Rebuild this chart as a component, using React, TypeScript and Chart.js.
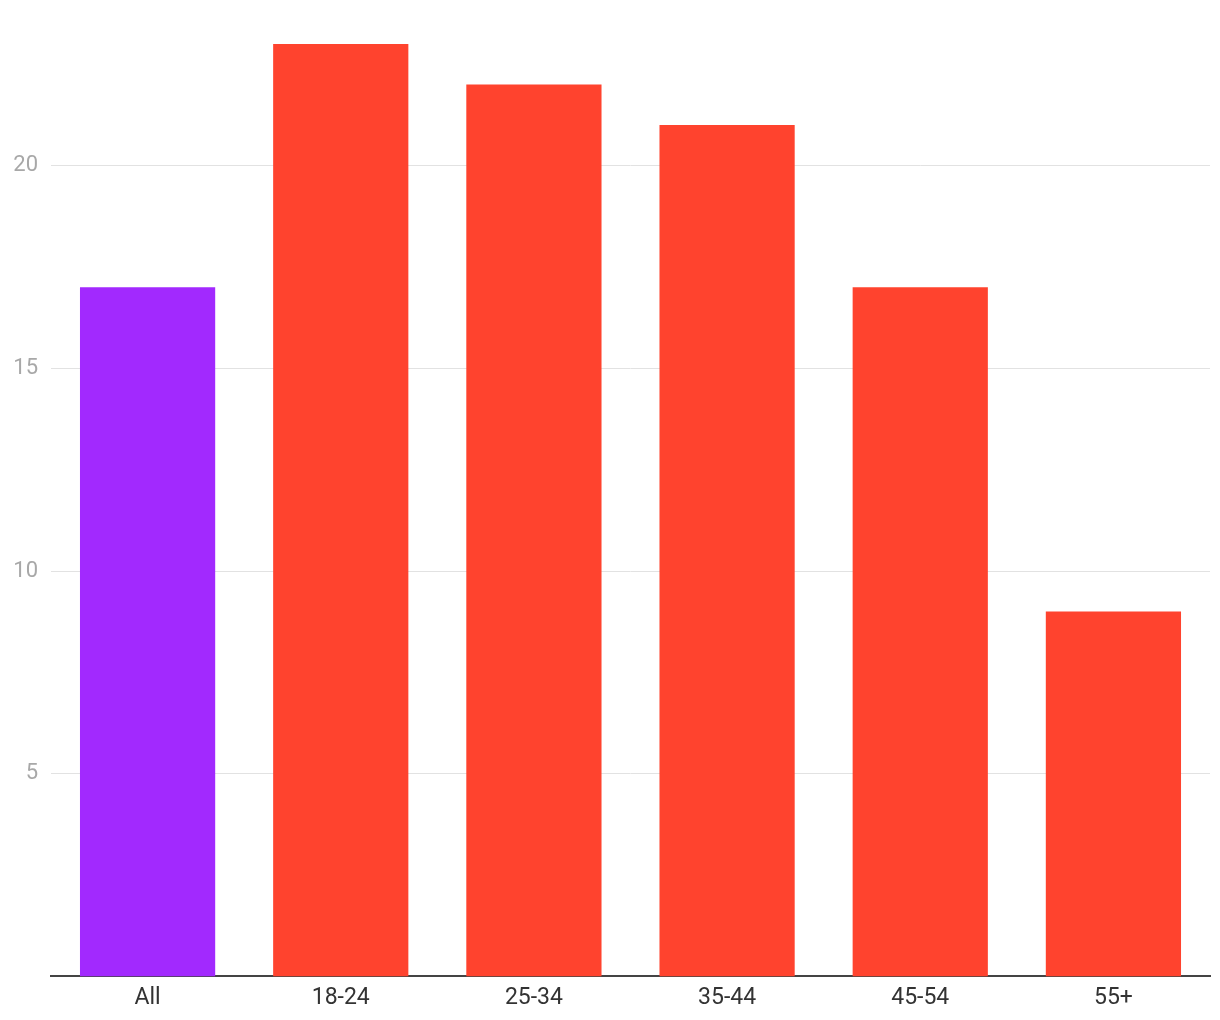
import React, { useEffect, useRef } from "react";
import { Chart, registerables } from "chart.js";

Chart.register(...registerables);

const categories = ["All", "18-24", "25-34", "35-44", "45-54", "55+"];
const values = [17, 23, 22, 21, 17, 9];
const barColors = ["#A229FE", "#FF432E", "#FF432E", "#FF432E", "#FF432E", "#FF432E"];
const yTicks = [5, 10, 15, 20];

export default function App() {
  const ref = useRef<HTMLCanvasElement | null>(null);
  useEffect(() => {
    if (!ref.current) return;
    const chart = new Chart(ref.current, {
      type: "bar",
      data: {
        labels: categories,
        datasets: [
          {
            data: values,
            backgroundColor: barColors,
            borderWidth: 0,
            barPercentage: 0.7,
            categoryPercentage: 1,
          },
        ],
      },
      options: {
        animation: false,
        responsive: false,
        maintainAspectRatio: false,
        layout: { padding: { top: 36, right: 2, left: 0, bottom: 0 } },
        plugins: { legend: { display: false }, tooltip: { enabled: false } },
        scales: {
          x: {
            grid: { display: false, drawTicks: false },
            border: { display: true, color: "#444444", width: 2 },
            ticks: {
              color: "#333333",
              padding: 8,
              font: { family: "Roboto, 'Liberation Sans', sans-serif", size: 23 },
            },
          },
          y: {
            min: 0,
            max: 23,
            afterBuildTicks: (axis: any) => {
              axis.ticks = yTicks.map((v) => ({ value: v }));
            },
            afterFit: (axis: any) => {
              axis.width = 43;
            },
            grid: { color: "#e2e2e2", lineWidth: 1, drawTicks: false },
            border: { display: false },
            ticks: {
              color: "#a8a8a8",
              padding: 13,
              font: { family: "Roboto, 'Liberation Sans', sans-serif", size: 22 },
            },
          },
        },
      },
    });
    return () => chart.destroy();
  }, []);
  return (
    <div style={{ width: 1204, height: 1012 }}>
      <canvas ref={ref} width={1204} height={1012} style={{ display: "block" }} />
    </div>
  );
}
